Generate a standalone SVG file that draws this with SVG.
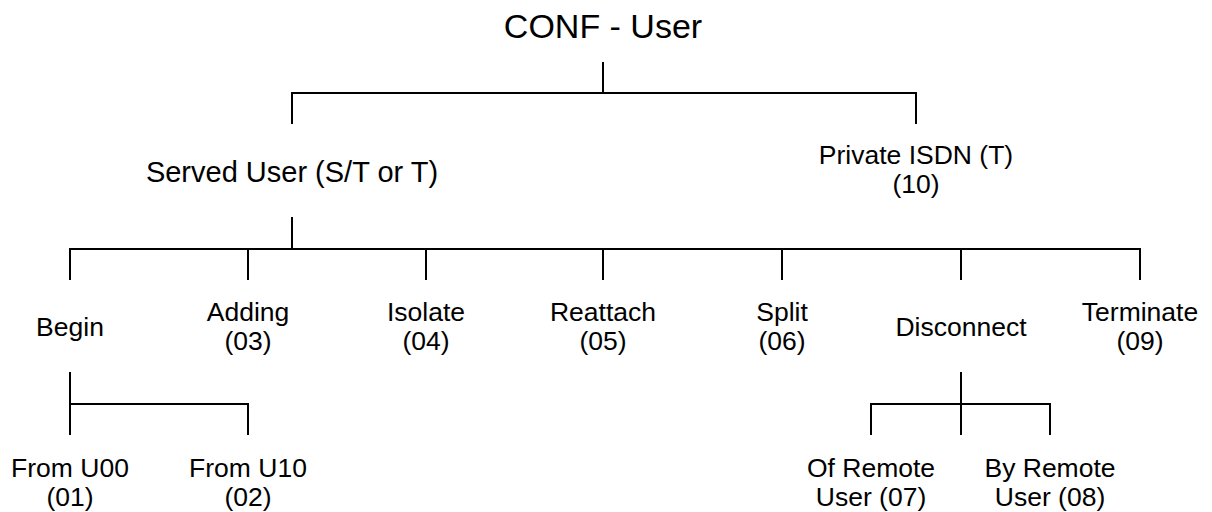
<svg xmlns="http://www.w3.org/2000/svg" width="1212" height="512" viewBox="0 0 1212 512">
<style>
text{font-family:"Liberation Sans",Arial,sans-serif;fill:#000;text-anchor:middle}
.t0{font-size:34px}
.t1{font-size:29px}
.t2{font-size:26.5px}
.c line{stroke:#000;stroke-width:2}
</style>
<rect width="1212" height="512" fill="#fff"/>
<g class="c" id="connectors">
<line x1="603" y1="62" x2="603" y2="93"/>
<line x1="291" y1="93" x2="917" y2="93"/>
<line x1="292" y1="92" x2="292" y2="124"/>
<line x1="916" y1="92" x2="916" y2="124"/>
<line x1="292" y1="217" x2="292" y2="249"/>
<line x1="69" y1="249" x2="1141" y2="249"/>
<line x1="70" y1="248" x2="70" y2="280"/>
<line x1="248" y1="248" x2="248" y2="280"/>
<line x1="426" y1="248" x2="426" y2="280"/>
<line x1="603" y1="248" x2="603" y2="280"/>
<line x1="782" y1="248" x2="782" y2="280"/>
<line x1="961" y1="248" x2="961" y2="280"/>
<line x1="1140" y1="248" x2="1140" y2="280"/>
<line x1="70" y1="372" x2="70" y2="435"/>
<line x1="70" y1="404" x2="249" y2="404"/>
<line x1="248" y1="403" x2="248" y2="435"/>
<line x1="961" y1="372" x2="961" y2="435"/>
<line x1="870" y1="404" x2="1051" y2="404"/>
<line x1="871" y1="403" x2="871" y2="435"/>
<line x1="1050" y1="403" x2="1050" y2="435"/>
</g>
<g id="root"><text class="t0" x="603" y="38">CONF - User</text></g>
<g id="served"><text class="t1" x="292" y="182">Served User (S/T or T)</text></g>
<g id="private"><text class="t2" x="916" y="164">Private ISDN (T)</text><text class="t2" x="916" y="193">(10)</text></g>
<g id="begin"><text class="t2" x="70" y="336">Begin</text></g>
<g id="adding"><text class="t2" x="248" y="321">Adding</text><text class="t2" x="248" y="350">(03)</text></g>
<g id="isolate"><text class="t2" x="426" y="321">Isolate</text><text class="t2" x="426" y="350">(04)</text></g>
<g id="reattach"><text class="t2" x="603" y="321">Reattach</text><text class="t2" x="603" y="350">(05)</text></g>
<g id="split"><text class="t2" x="782" y="321">Split</text><text class="t2" x="782" y="350">(06)</text></g>
<g id="disconnect"><text class="t2" x="961" y="336">Disconnect</text></g>
<g id="terminate"><text class="t2" x="1140" y="321">Terminate</text><text class="t2" x="1140" y="350">(09)</text></g>
<g id="u00"><text class="t2" x="70" y="477">From U00</text><text class="t2" x="70" y="506">(01)</text></g>
<g id="u10"><text class="t2" x="248" y="477">From U10</text><text class="t2" x="248" y="506">(02)</text></g>
<g id="of"><text class="t2" x="871" y="477">Of Remote</text><text class="t2" x="871" y="506">User (07)</text></g>
<g id="by"><text class="t2" x="1050" y="477">By Remote</text><text class="t2" x="1050" y="506">User (08)</text></g>
</svg>
